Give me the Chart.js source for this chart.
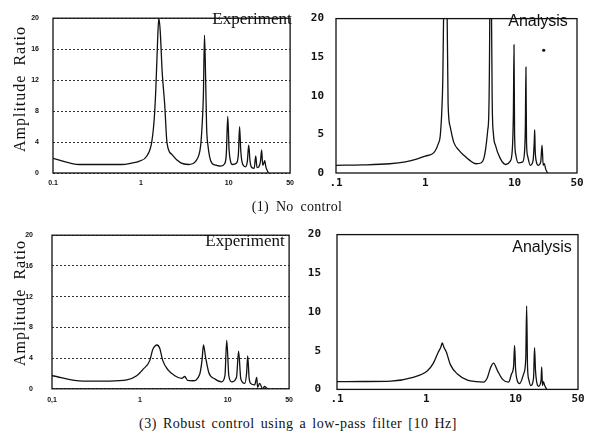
<!DOCTYPE html>
<html>
<head>
<meta charset="utf-8">
<script src="https://cdn.jsdelivr.net/npm/chart.js@4.4.1/dist/chart.umd.min.js"></script>
<style>
  html, body { margin: 0; padding: 0; background: #fff; }
  #page { position: relative; width: 591px; height: 440px; overflow: hidden; background: #fff; }
  canvas { position: absolute; }
  .lbl { position: absolute; transform: translate(-50%, -50%); white-space: nowrap; color: #111; }
  .serif { font-family: 'Liberation Serif', 'Times New Roman', serif; }
  .sans { font-family: 'Liberation Sans', Arial, sans-serif; }
  .ylab { transform: translate(-50%, -50%) rotate(-90deg); font-size: 16px; letter-spacing: 1px; word-spacing: 4px; }
</style>
</head>
<body>
<div id="page">
  <canvas id="c1" width="300" height="192" style="left:0;top:0"></canvas>
  <canvas id="c2" width="296" height="192" style="left:295px;top:0"></canvas>
  <canvas id="c3" width="300" height="200" style="left:0;top:212px"></canvas>
  <canvas id="c4" width="296" height="200" style="left:295px;top:212px"></canvas>

  <div class="lbl serif ylab" style="left:20px;top:89px">Amplitude Ratio</div>
  <div class="lbl serif ylab" style="left:20px;top:303px">Amplitude Ratio</div>
  <div class="lbl serif" style="left:252px;top:19px;font-size:17px">Experiment</div>
  <div class="lbl sans" style="left:538px;top:21px;font-size:16px">Analysis</div>
  <div class="lbl serif" style="left:245px;top:241px;font-size:17px">Experiment</div>
  <div class="lbl sans" style="left:542px;top:247px;font-size:16px">Analysis</div>
  <div class="lbl serif" style="left:297px;top:207px;font-size:14px;letter-spacing:0.3px;word-spacing:3px">(1) No control</div>
  <div class="lbl serif" style="left:298px;top:424px;font-size:14px;letter-spacing:0.5px;word-spacing:2px">(3) Robust control using a low-pass filter [10 Hz]</div>
</div>

<script>
// ejes comunes
const xTickVals = [0.1, 1, 10, 50];
const xLabelsExp1 = ['0.1', '1', '10', '50'];
const xLabelsExp3 = ['0,1', '1', '10', '50'];
const xLabelsAna = ['.1', '1', '10', '50'];
const yTicksExp = [0, 4, 8, 12, 16, 20];
const yTicksAna = [0, 5, 10, 15, 20];

// (1) Sin control - experimento
const exp1Freq = [0.1, 0.2, 0.4, 0.6, 0.8, 0.95, 1.17, 1.33, 1.42, 1.48, 1.55, 1.6, 1.66, 1.75, 1.87, 1.98, 2.25, 2.85, 3.5, 4.2,
  4.6, 4.8, 5.0, 5.15, 5.3, 5.45, 5.6, 5.8, 6.4, 7.2, 8.1, 9.0, 9.4, 9.75, 10.1, 10.5, 11.0, 12.3, 12.9, 13.3,
  13.7, 14.2, 15.5, 16.3, 16.9, 17.5, 18.3, 19.5, 20.3, 21.0, 22.0, 23.0, 23.7, 24.4, 25.0, 25.7, 26.5, 27.5, 28.5];
const exp1Amp = [1.9, 1.1, 1.1, 1.1, 1.3, 1.5, 2.2, 4.0, 7.0, 10.8, 17.0, 20.0, 18.4, 13.0, 8.8, 4.0, 2.4, 1.3, 1.1, 1.5,
  2.4, 3.6, 6.5, 10.0, 17.8, 12.8, 6.0, 3.6, 1.3, 1.0, 0.9, 1.2, 2.5, 7.3, 3.0, 1.5, 1.1, 1.3, 2.5, 6.0,
  3.0, 1.4, 0.8, 1.5, 3.6, 1.5, 0.7, 0.6, 2.2, 0.7, 0.8, 1.5, 3.0, 1.0, 1.2, 1.6, 0.8, 0.3, 0.0];

// (1) Sin control - analisis (los picos se salen de la escala)
const ana1Freq = [0.1, 0.2, 0.4, 0.6, 0.8, 1.0, 1.24, 1.4, 1.47, 1.53, 1.57, 1.61, 1.68, 1.75, 1.8, 1.9, 2.08, 2.4, 2.7, 3.1,
  3.7, 4.2, 4.5, 4.75, 5.0, 5.15, 5.27, 5.4, 5.52, 5.62, 5.8, 6.1, 6.9, 8.0, 8.9, 9.4, 9.7, 9.85, 10.0, 10.3,
  11.0, 12.2, 12.9, 13.2, 13.4, 13.6, 14.0, 15.0, 16.1, 16.6, 16.8, 17.0, 17.5, 18.4, 19.6, 20.3, 20.9, 21.5, 22.3, 23.4];
const ana1Amp = [1.0, 1.05, 1.2, 1.45, 1.8, 2.2, 2.6, 3.8, 4.8, 8.0, 12.0, 22, 60, 22, 9.0, 6.0, 4.0, 2.9, 2.3, 1.7,
  1.2, 1.3, 1.8, 3.2, 5.5, 8.0, 20, 60, 20, 9.0, 5.0, 3.6, 1.9, 1.1, 1.5, 2.8, 8, 16.6, 5, 2.4,
  1.3, 1.4, 2.6, 6, 13.7, 4, 2.2, 1.0, 1.6, 4.0, 5.6, 3, 1.5, 1.0, 1.4, 3.6, 1.0, 1.2, 0.5, 0.0];
const ana1Dot = [{ x: 21.2, y: 15.9 }];

// (3) Control robusto con filtro pasa-bajas - experimento
const exp3Freq = [0.1, 0.225, 0.45, 0.71, 0.92, 1.08, 1.3, 1.4, 1.5, 1.56, 1.68, 1.82, 2.08, 2.5, 3.0, 3.24, 3.5, 4.0, 4.8, 5.1,
  5.3, 5.6, 6.1, 7.1, 8.5, 9.3, 9.75, 10.3, 11.1, 12.6, 13.3, 14.1, 15.6, 16.4, 16.9, 17.5, 18.2, 20.3, 21.4, 21.9,
  23.1, 25.0, 26.3, 28.5];
const exp3Amp = [1.7, 1.0, 1.0, 1.15, 1.7, 2.5, 3.7, 5.1, 5.6, 5.7, 5.3, 3.7, 2.5, 1.7, 1.35, 1.6, 1.1, 1.05, 1.9, 3.7,
  5.7, 4.1, 2.1, 1.3, 0.9, 1.7, 6.3, 1.7, 0.9, 1.5, 4.9, 1.3, 0.7, 2.0, 4.3, 1.5, 0.7, 0.5, 1.5, 0.2,
  0.7, 0.0, 0.3, 0.0];

// (3) Control robusto - analisis
const ana3Freq = [0.1, 0.2, 0.4, 0.71, 1.03, 1.2, 1.36, 1.45, 1.51, 1.58, 1.68, 1.86, 2.23, 2.89, 3.6, 4.37, 4.84, 5.24, 5.66, 6.28,
  7.15, 8.35, 9.0, 9.5, 9.75, 10.0, 10.4, 11.1, 12.3, 13.0, 13.3, 13.6, 14.1, 14.8, 15.9, 16.3, 16.7, 17.2, 18.1, 19.3,
  19.6, 20.0, 20.5, 21.2, 22.3];
const ana3Amp = [1.0, 1.02, 1.07, 1.55, 2.4, 3.4, 4.8, 5.4, 6.0, 5.4, 4.8, 3.2, 2.0, 1.2, 1.0, 0.94, 1.55, 2.8, 3.4, 2.4,
  1.3, 0.94, 2.0, 3.0, 5.7, 2.6, 1.2, 0.74, 2.0, 4.0, 10.8, 3.0, 1.2, 0.5, 1.5, 5.4, 2.5, 1.0, 0.4, 1.2,
  2.9, 0.5, 1.0, 0.5, 0.0];

// marco negro alrededor del area del grafico
const marco = {
  id: 'marco',
  afterDatasetsDraw(chart) {
    const { ctx, chartArea: a } = chart;
    ctx.save();
    ctx.strokeStyle = '#111';
    ctx.lineWidth = 1.3;
    ctx.strokeRect(a.left, a.top, a.right - a.left, a.bottom - a.top);
    ctx.restore();
  }
};

function panel(id, freq, amp, o) {
  const puntos = freq.map((f, i) => ({ x: f, y: amp[i] }));
  const datasets = [{
    data: puntos,
    borderColor: '#111',
    borderWidth: 1.3,
    pointRadius: 0,
    cubicInterpolationMode: 'monotone',
    fill: false
  }];
  if (o.dot) {
    datasets.push({ type: 'scatter', data: o.dot, pointRadius: 1.6, backgroundColor: '#111', borderWidth: 0 });
  }
  return new Chart(document.getElementById(id), {
    type: 'line',
    data: { datasets },
    options: {
      responsive: false,
      animation: false,
      devicePixelRatio: 1,
      layout: { padding: { top: o.top, right: o.right, left: 0, bottom: 0 } },
      plugins: { legend: { display: false }, tooltip: { enabled: false } },
      scales: {
        x: {
          type: 'logarithmic',
          min: 0.1,
          max: 50,
          afterBuildTicks: s => { s.ticks = xTickVals.map(v => ({ value: v })); },
          afterFit: s => { s.height = o.xh; },
          ticks: {
            autoSkip: false, maxRotation: 0, padding: o.xpad,
            font: o.font, color: '#111',
            callback: (v, i) => o.xLabels[i]
          },
          grid: { display: false, drawTicks: false },
          border: { display: false }
        },
        y: {
          min: 0,
          max: 20,
          afterBuildTicks: s => { s.ticks = o.yTicks.map(v => ({ value: v })); },
          afterFit: s => { s.width = o.yw; },
          ticks: { padding: o.ypad, font: o.font, color: '#111', callback: v => String(v) },
          grid: { display: o.grid, drawTicks: false, color: '#333', lineWidth: 1 },
          border: { display: false, dash: [2, 2] }
        }
      }
    },
    plugins: [marco]
  });
}

const fuenteExp = { family: "'Liberation Sans', Arial, sans-serif", size: 7, weight: 'bold' };
const fuenteAna = { family: "'DejaVu Sans Mono', monospace", size: 11, weight: 'bold' };

panel('c1', exp1Freq, exp1Amp, { top: 7, right: 5, yw: 53, xh: 19, xpad: 6, ypad: 14, font: fuenteExp,
  xLabels: xLabelsExp1, yTicks: yTicksExp, grid: true });
panel('c2', ana1Freq, ana1Amp, { top: 9, right: 14, yw: 41, xh: 19, xpad: 4, ypad: 12, font: fuenteAna,
  xLabels: xLabelsAna, yTicks: yTicksAna, grid: false, dot: ana1Dot });
panel('c3', exp3Freq, exp3Amp, { top: 16, right: 4, yw: 52, xh: 18, xpad: 7, ypad: 19, font: fuenteExp,
  xLabels: xLabelsExp3, yTicks: yTicksExp, grid: true });
panel('c4', ana3Freq, ana3Amp, { top: 21, right: 13, yw: 42, xh: 16, xpad: 3, ypad: 16, font: fuenteAna,
  xLabels: xLabelsAna, yTicks: yTicksAna, grid: false });
</script>
</body>
</html>
